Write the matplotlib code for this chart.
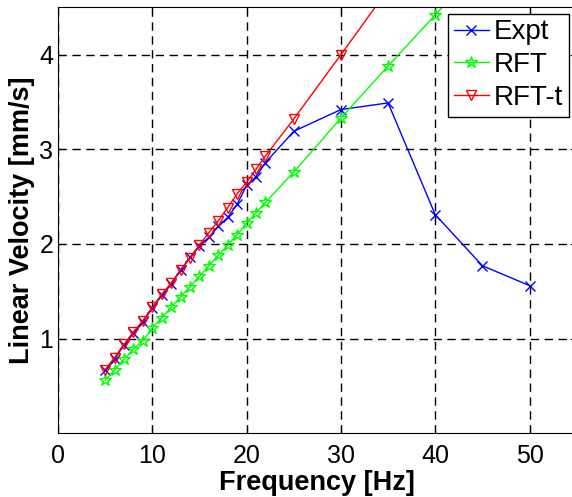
import numpy as np
import matplotlib
matplotlib.use("Agg")
import matplotlib.pyplot as plt

plt.rcParams['font.family'] = ['Liberation Sans', 'DejaVu Sans']

# measured data
freq_expt = [5, 6, 7, 8, 9, 10, 11, 12, 13, 14, 15, 16, 17, 18, 19, 20, 21, 22,
             25, 30, 35, 40, 45, 50]
vel_expt = [0.67, 0.79, 0.93, 1.06, 1.18, 1.32, 1.46, 1.58, 1.72, 1.86, 1.98,
            2.07, 2.19, 2.28, 2.42, 2.62, 2.71, 2.86, 3.19, 3.42, 3.49, 2.31,
            1.77, 1.56]

# model predictions
freq_rft = [5, 6, 7, 8, 9, 10, 11, 12, 13, 14, 15, 16, 17, 18, 19, 20, 21, 22,
            25, 30, 35, 40, 45]
vel_rft = [0.56, 0.67, 0.78, 0.89, 0.98, 1.11, 1.22, 1.33, 1.44, 1.55, 1.66,
           1.77, 1.88, 1.99, 2.1, 2.22, 2.33, 2.44, 2.76, 3.33, 3.88, 4.42, 4.97]

freq_rftt = [5, 6, 7, 8, 9, 10, 11, 12, 13, 14, 15, 16, 17, 18, 19, 20, 21, 22,
             25, 30, 35]
vel_rftt = [0.67, 0.8, 0.94, 1.07, 1.19, 1.33, 1.47, 1.585, 1.73, 1.85, 1.99,
            2.12, 2.245, 2.385, 2.53, 2.65, 2.79, 2.93, 3.32, 4.0, 4.69]

fig = plt.figure(figsize=(5.72, 4.97), dpi=100)
ax = fig.add_axes([58 / 572, 63.7 / 497, 518.7 / 572, 426 / 497])

ax.plot(freq_expt, vel_expt, color=(0, 0, 1), marker='x', markersize=7,
        markeredgewidth=1, linewidth=1, label='Expt')
ax.plot(freq_rft, vel_rft, color=(0, 1, 0), marker='*', markersize=9,
        markerfacecolor='none', markeredgewidth=1, linewidth=1, label='RFT')
ax.plot(freq_rftt, vel_rftt, color=(1, 0, 0), marker='v', markersize=7.5,
        markerfacecolor='none', markeredgewidth=1, linewidth=1, label='RFT-t')

ax.set_xlim(0, 55)
ax.set_ylim(0, 4.5)
ax.set_xticks([0, 10, 20, 30, 40, 50])
ax.set_yticks([1, 2, 3, 4])
ax.tick_params(labelsize=18, direction='in', length=5, top=True, right=True)
ax.tick_params(axis='x', pad=8)
ax.grid(True, color='black', linestyle=(0, (6, 4)), linewidth=1)

ax.set_xlabel('Frequency [Hz]', fontsize=19.5, fontweight='bold', labelpad=1)
ax.set_ylabel('Linear Velocity [mm/s]', fontsize=19.5, fontweight='bold', labelpad=3)

leg = ax.legend(loc='upper right', bbox_to_anchor=(511 / 518.7, 0.985),
                fontsize=20, fancybox=False, framealpha=1, edgecolor='black',
                handlelength=1.25, handletextpad=0.2, borderpad=0.2,
                labelspacing=0.25, borderaxespad=0)
leg.get_frame().set_linewidth(1)

fig.savefig('out.png', dpi=100)
